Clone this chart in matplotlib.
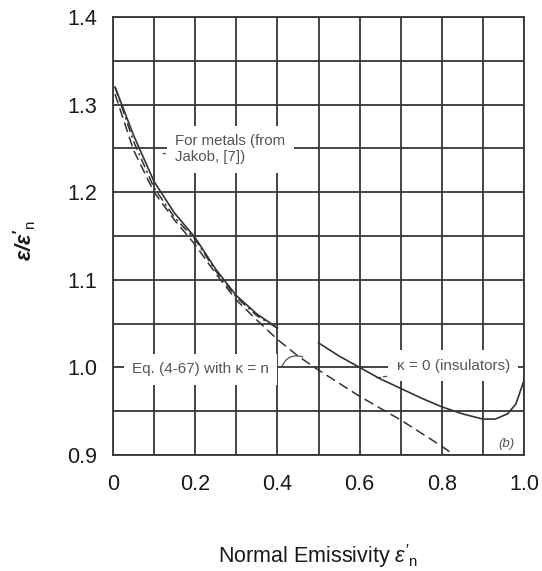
import numpy as np
import matplotlib
matplotlib.use("Agg")
import matplotlib.pyplot as plt

plt.rcParams['font.family'] = ['Liberation Sans', 'DejaVu Sans']
plt.rcParams['mathtext.fontset'] = 'custom'
plt.rcParams['mathtext.rm'] = 'Liberation Sans'
plt.rcParams['mathtext.it'] = 'Liberation Sans:italic'
plt.rcParams['mathtext.bf'] = 'Liberation Sans:bold:italic'

# ---- data ----
# kappa = 0 (insulators), solid (gap between 0.4 and 0.5 as in the scan)
x_insul = [0.005, 0.05, 0.1, 0.15, 0.2, 0.25, 0.3, 0.35, 0.4, np.nan,
           0.5, 0.55, 0.6, 0.65, 0.7, 0.75, 0.8, 0.85, 0.9, 0.93, 0.96, 0.98, 1.0]
y_insul = [1.32, 1.265, 1.212, 1.176, 1.148, 1.112, 1.082, 1.061, 1.045, np.nan,
           1.028, 1.013, 1.0, 0.987, 0.976, 0.965, 0.955, 0.947, 0.941, 0.941, 0.947, 0.958, 0.985]

# metals (from Jakob, [7]), dash-dot
x_metal = [0.005, 0.05, 0.1, 0.15, 0.2, 0.25, 0.3, 0.35, 0.4]
y_metal = [1.32, 1.258, 1.205, 1.171, 1.146, 1.11, 1.08, 1.059, 1.045]

# Eq. (4-67) with kappa = n, dashed
x_eq = [0.005, 0.05, 0.1, 0.15, 0.2, 0.25, 0.3, 0.35, 0.4, 0.45, 0.5,
        0.6, 0.7, 0.8, 0.83]
y_eq = [1.312, 1.248, 1.2, 1.168, 1.14, 1.107, 1.077, 1.054, 1.032, 1.013, 0.997,
        0.967, 0.94, 0.91, 0.9]

x_ticks = [0, 0.2, 0.4, 0.6, 0.8, 1.0]
x_ticklabels = ['0', '0.2', '0.4', '0.6', '0.8', '1.0']
y_ticks = [0.9, 1.0, 1.1, 1.2, 1.3, 1.4]
y_ticklabels = ['0.9', '1.0', '1.1', '1.2', '1.3', '1.4']

W, H = 542, 571
fig = plt.figure(figsize=(W / 100, H / 100), dpi=100)
ax = fig.add_axes([113 / W, 1 - 455 / H, 411 / W, 438 / H])

gcol = '#363636'
lcol = '#333333'
tcol = '#555555'

ax.set_xlim(0, 1.0)
ax.set_ylim(0.9, 1.4)
ax.set_xticks(x_ticks)
ax.set_xticklabels(x_ticklabels)
ax.set_xticks(np.arange(0.1, 1.0, 0.2), minor=True)
ax.set_yticks(y_ticks)
ax.set_yticklabels(y_ticklabels)
ax.set_yticks(np.arange(0.95, 1.4, 0.1), minor=True)
ax.grid(which='both', color=gcol, lw=1.3, zorder=1)
ax.set_axisbelow(True)
ax.tick_params(which='both', length=0, labelsize=15.5, labelcolor='#1a1a1a')
ax.tick_params(axis='x', pad=14)
ax.tick_params(axis='y', pad=11.5)
for s in ax.spines.values():
    s.set_color(gcol)
    s.set_linewidth(1.3)

ax.plot(x_insul, y_insul, color=lcol, lw=1.2, zorder=5)
ax.plot(x_metal, y_metal, color=lcol, lw=1.1, dashes=(6, 2.5, 1.5, 2.5), zorder=5)
ax.plot(x_eq, y_eq, color=lcol, lw=1.1, dashes=(6.5, 3.3), zorder=5)

box = dict(facecolor='white', edgecolor='none', pad=6)
lead = dict(arrowstyle='-', color=tcol, lw=0.9, ls=(0, (3, 2)), shrinkA=1, shrinkB=0)

ax.annotate('For metals (from\nJakob, [7])', xy=(0.122, 1.244), xytext=(0.152, 1.249),
            ha='left', va='center', fontsize=10.8, color=tcol, linespacing=1.2,
            bbox=box, arrowprops=lead, zorder=3)
ax.text(0.046, 0.998, 'Eq. (4-67) with \u03ba = n', ha='left', va='center',
        fontsize=11, color=tcol, bbox=box, zorder=3)
ax.annotate('', xy=(0.462, 1.012), xytext=(0.41, 1.0),
            arrowprops=dict(arrowstyle='-', color=tcol, lw=0.9, shrinkA=0, shrinkB=0,
                            connectionstyle='arc3,rad=-0.45'), zorder=4)
ax.annotate('\u03ba = 0 (insulators)', xy=(0.642, 0.988), xytext=(0.69, 1.002),
            ha='left', va='center', fontsize=11, color=tcol, bbox=box,
            arrowprops=lead, zorder=3)
ax.text(0.958, 0.9125, '(b)', ha='center', va='center', fontsize=9.5,
        style='italic', color=tcol, zorder=3)

ax.set_xlabel(r"Normal Emissivity $\varepsilon'_{\mathrm{n}}$", fontsize=15.5,
              color='#1a1a1a')
ax.xaxis.set_label_coords(0.5, (455 - 563) / 438)
ax.xaxis.label.set_va('baseline')
ax.set_ylabel(r"$\mathbf{\varepsilon/\varepsilon'}_{\mathrm{n}}$", fontsize=15.5,
              color='#1a1a1a')
ax.yaxis.set_label_coords((25 - 113) / 411, 0.49)
ax.yaxis.label.set_va('center')

fig.savefig('out.png', dpi=100, facecolor='white')
